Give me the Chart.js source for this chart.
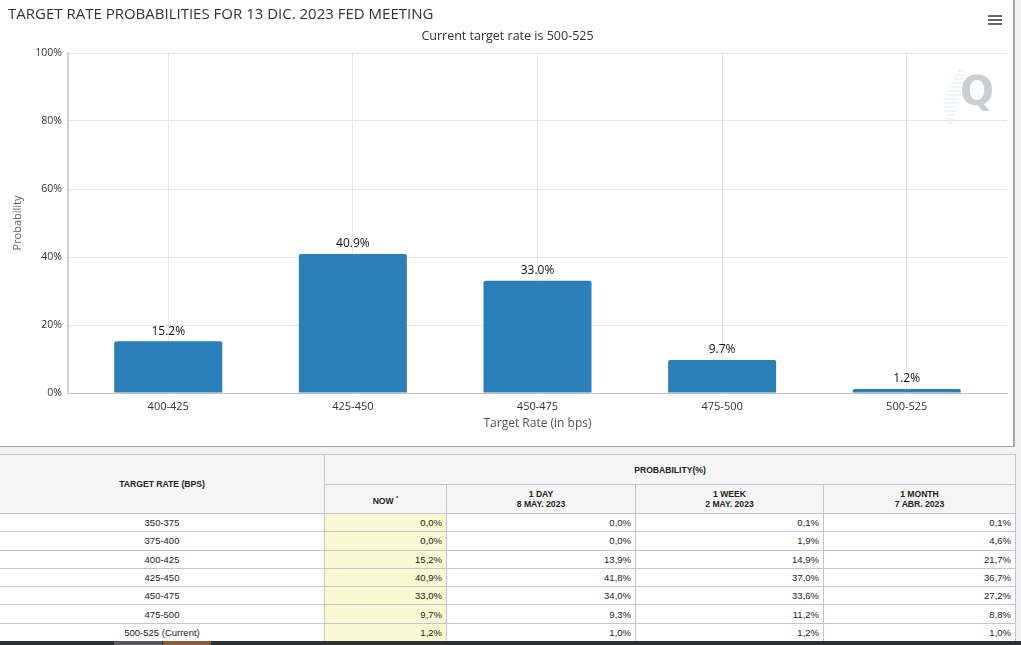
<!DOCTYPE html>
<html>
<head>
<meta charset="utf-8">
<script src="https://cdn.jsdelivr.net/npm/chart.js@4.4.0/dist/chart.umd.min.js"></script>
<style>
  html, body { margin:0; padding:0; background:#f2f2f2; width:1021px; height:645px; overflow:hidden; }
  #chartbox { position:absolute; left:0; top:0; width:1013px; height:446px; background:#fff;
              border-right:2px solid #a6a6a6; border-bottom:1px solid #a6a6a6; }
  #chartbox canvas { display:block; }
  #menu { position:absolute; left:988px; top:15px; width:14px; height:12px; }
  #menu span { display:block; height:2px; background:#666; margin-bottom:2px; }
  table { position:absolute; left:-1px; top:454px; width:1016px; border-collapse:collapse;
          font-family:"Liberation Sans", Arial, sans-serif; font-size:9.5px; color:#222; background:#fff; table-layout:fixed; }
  th, td { border:1px solid #c4c4d4; padding:0 4px; }
  th { background:#f6f6f6; font-weight:bold; font-size:8.6px; text-align:center; color:#222; }
  tr.h1 th { height:29px; }
  tr.h2 th { height:28px; line-height:10px; }
  td { height:17.3px; text-align:right; }
  td.rate { text-align:center; }
  td.now { background:#fafad2; }
  #strip { position:absolute; left:0; top:641px; width:1021px; height:4px; background:#2e3033; }
  #strip i { position:absolute; top:0; height:4px; }
</style>
</head>
<body>
<div id="chartbox"><canvas id="c" width="1013" height="446"></canvas>
  <div id="menu"><span></span><span></span><span></span></div>
</div>
<table id="tbl">
  <colgroup><col style="width:325px"><col style="width:122px"><col style="width:189px"><col style="width:188px"><col style="width:192px"></colgroup>
  <thead>
    <tr class="h1"><th rowspan="2">TARGET RATE (BPS)</th><th colspan="4">PROBABILITY(%)</th></tr>
    <tr class="h2" id="hdr2"></tr>
  </thead>
  <tbody id="tbody"></tbody>
</table>
<div id="strip"><i style="left:114px;width:48px;background:#5a5a5c"></i><i style="left:163px;width:48px;background:#8c5a3a"></i></div>
<script>
// ---- chart data ----
const categories = ['400-425', '425-450', '450-475', '475-500', '500-525'];
const probabilities = [15.2, 40.9, 33.0, 9.7, 1.2];
const yTickValues = [0, 20, 40, 60, 80, 100];
const chartTitle = 'TARGET RATE PROBABILITIES FOR 13 DIC. 2023 FED MEETING';
const chartSubtitle = 'Current target rate is 500-525';
const xAxisTitle = 'Target Rate (in bps)';
const yAxisTitle = 'Probability';

// ---- table data ----
const tableRates = ['350-375', '375-400', '400-425', '425-450', '450-475', '475-500', '500-525 (Current)'];
const nowProb = [0.0, 0.0, 15.2, 40.9, 33.0, 9.7, 1.2];
const oneDayProb = [0.0, 0.0, 13.9, 41.8, 34.0, 9.3, 1.0];
const oneWeekProb = [0.1, 1.9, 14.9, 37.0, 33.6, 11.2, 1.2];
const oneMonthProb = [0.1, 4.6, 21.7, 36.7, 27.2, 8.8, 1.0];
const columnHeaders = [['NOW *'], ['1 DAY', '8 MAY. 2023'], ['1 WEEK', '2 MAY. 2023'], ['1 MONTH', '7 ABR. 2023']];

// build table
const fmt = v => v.toFixed(1).replace('.', ',') + '%';
const hdr2 = document.getElementById('hdr2');
columnHeaders.forEach(lines => {
  const th = document.createElement('th');
  th.innerHTML = lines.map(l => l.replace('*', '<sup style="font-size:6px">*</sup>')).join('<br>');
  hdr2.appendChild(th);
});
const tbody = document.getElementById('tbody');
tableRates.forEach((r, i) => {
  const tr = document.createElement('tr');
  tr.innerHTML = '<td class="rate">' + r + '</td>' +
    '<td class="now">' + fmt(nowProb[i]) + '</td>' +
    '<td>' + fmt(oneDayProb[i]) + '</td>' +
    '<td>' + fmt(oneWeekProb[i]) + '</td>' +
    '<td>' + fmt(oneMonthProb[i]) + '</td>';
  tbody.appendChild(tr);
});

// ---- plugins ----
const valueLabels = {
  id: 'valueLabels',
  afterDatasetsDraw(chart) {
    const ctx = chart.ctx;
    const meta = chart.getDatasetMeta(0);
    ctx.save();
    ctx.font = '12px "Open Sans"';
    ctx.fillStyle = '#111';
    ctx.textAlign = 'center';
    ctx.textBaseline = 'bottom';
    meta.data.forEach((bar, i) => {
      ctx.fillText(probabilities[i].toFixed(1) + '%', bar.x, bar.y - 4);
    });
    ctx.restore();
  }
};
const watermark = {
  id: 'watermark',
  beforeDatasetsDraw(chart) {
    const ctx = chart.ctx;
    const a = chart.chartArea;
    ctx.save();
    const cx = a.right - 34, cy = a.top + 42;
    ctx.strokeStyle = 'rgba(120,200,230,0.55)';
    ctx.lineWidth = 1;
    ctx.setLineDash([1, 1]);
    for (let k = 0; k < 14; k++) {
      const y = cy - 24 + k * 4;
      const len = 6 + (k < 7 ? k : 13 - k) * 1.5;
      const x0 = cx - 8 - (k * 0.9);
      ctx.beginPath(); ctx.moveTo(x0 - len, y); ctx.lineTo(x0, y); ctx.stroke();
    }
    ctx.setLineDash([]);
    ctx.font = 'bold 40px "DejaVu Sans"';
    ctx.fillStyle = 'rgba(170,175,180,0.6)';
    ctx.textAlign = 'center';
    ctx.textBaseline = 'middle';
    ctx.fillText('Q', cx + 4, cy);
    ctx.restore();
  }
};

// ---- chart ----
new Chart(document.getElementById('c'), {
  type: 'bar',
  data: {
    datasets: [{
      data: probabilities.map((v, i) => ({ x: i, y: v })),
      backgroundColor: '#2b7fb8',
      borderColor: '#2b7fb8',
      borderWidth: 0,
      borderRadius: { topLeft: 2, topRight: 2 },
      borderSkipped: 'bottom',
      barPercentage: 0.585,
      categoryPercentage: 1
    }]
  },
  options: {
    responsive: false,
    animation: false,
    devicePixelRatio: 1,
    layout: { padding: { left: 8, right: 6, top: 0, bottom: 0 } },
    plugins: {
      legend: { display: false },
      tooltip: { enabled: false },
      title: {
        display: true, text: chartTitle, align: 'start', color: '#333',
        font: { family: 'Open Sans', size: 15, weight: 'normal', lineHeight: 1.2 },
        padding: { top: 6, bottom: 2 }
      },
      subtitle: {
        display: true, text: chartSubtitle, color: '#333',
        font: { family: 'Open Sans', size: 12.5, weight: 'normal', lineHeight: 1.2 },
        padding: { top: 3, bottom: 9 }
      }
    },
    scales: {
      x: {
        type: 'linear',
        offset: false,
        min: -0.543, max: 4.543,
        afterBuildTicks: s => { s.ticks = categories.map((_, i) => ({ value: i })); },
        afterFit: s => { s.height = 53; },
        ticks: {
          autoSkip: false, maxRotation: 0, padding: 7, color: '#333',
          font: { family: 'Open Sans', size: 11 },
          callback: v => categories[v]
        },
        grid: { color: '#e6e6e6', drawTicks: false, offset: false },
        border: { color: '#c0c0c0', width: 1 },
        title: {
          display: true, text: xAxisTitle, color: '#555',
          font: { family: 'Open Sans', size: 12 },
          padding: { top: 0, bottom: 15 }
        }
      },
      y: {
        min: 0, max: 100,
        afterBuildTicks: s => { s.ticks = yTickValues.map(v => ({ value: v })); },
        afterFit: s => { s.width = 60; },
        ticks: {
          padding: 6, color: '#333',
          font: { family: 'Open Sans', size: 10.5 },
          callback: v => v + '%'
        },
        grid: { color: '#e6e6e6', drawTicks: false },
        border: { color: '#d0d0d0', width: 2 },
        title: {
          display: true, text: yAxisTitle, color: '#666',
          font: { family: 'Open Sans', size: 11 },
          padding: { top: 3, bottom: 0 }
        }
      }
    }
  },
  plugins: [watermark, valueLabels]
});
</script>
</body>
</html>
